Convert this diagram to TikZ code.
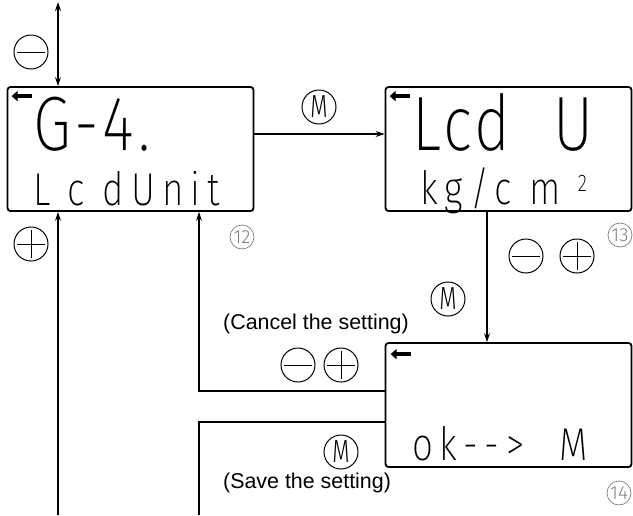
\documentclass[tikz,border=0pt]{standalone}
\usepackage{fontspec}
\setmainfont{Liberation Sans}
\newfontfamily\thinfont{Fira Sans Light}
\newfontfamily\lcdfont{Fira Sans ExtraLight}[FakeStretch=0.8]
\usetikzlibrary{arrows.meta}

\tikzset{
  lcd/.style={draw, line width=1.8pt, rounded corners=3pt, minimum width=246pt, minimum height=124pt, inner sep=0pt},
  link/.style={line width=1.2pt, -{Stealth[length=9pt,width=6pt]}},
  btn/.style={circle, draw, line width=1pt, minimum size=34pt, inner sep=0pt, font=\thinfont\fontsize{32}{32}\selectfont},
  btnminus/.style={btn, path picture={\draw[line width=1pt] ([xshift=3pt]path picture bounding box.west) -- ([xshift=-3pt]path picture bounding box.east);}},
  btnplus/.style={btn, path picture={
      \draw[line width=1pt] ([xshift=3pt]path picture bounding box.west) -- ([xshift=-3pt]path picture bounding box.east);
      \draw[line width=1pt] ([yshift=-3pt]path picture bounding box.north) -- ([yshift=3pt]path picture bounding box.south);}},
  stepno/.style={circle, draw=gray, line width=0.7pt, minimum size=24pt, inner sep=0pt, text=gray, font=\thinfont\fontsize{19}{19}\selectfont},
  bigseg/.style={anchor=base west, inner sep=0pt, font=\lcdfont\fontsize{77}{77}\selectfont\addfontfeature{LetterSpace=5}},
  smallseg/.style={anchor=base west, inner sep=0pt, font=\lcdfont\fontsize{46}{46}\selectfont\addfontfeature{LetterSpace=15}},
  note/.style={inner sep=0pt, font=\fontsize{21.4}{22}\selectfont},
  cursor/.style={line width=4pt, -{Triangle[length=6pt,width=10pt]}},
}

\begin{document}
\begin{tikzpicture}[x=1pt, y=-1pt]
    \useasboundingbox (0,0) rectangle (633,515);

    % Displays
    \node[lcd] (disp1) at (130.5,149) {};
    \node[lcd] (disp2) at (508.5,149) {};
    \node[lcd] (disp3) at (508.5,405) {};

    % Display contents
    \draw[cursor] ([shift={(25pt,-10pt)}]disp1.north west) -- ([shift={(5pt,-10pt)}]disp1.north west);
    \node[bigseg] (seg1a) at (33,150) {G-4.};
    \node[smallseg] (seg1b) at (33,205) {L\ c\ d\,Unit};

    \draw[cursor] ([shift={(25pt,-10pt)}]disp2.north west) -- ([shift={(5pt,-10pt)}]disp2.north west);
    \node[bigseg] (seg2a) at (412,150) {Lcd\ \ U};
    \node[smallseg] (seg2b) at (420,204) {kg\,/c\ m\ \raisebox{13pt}{\fontsize{24}{24}\selectfont 2}};

    \draw[cursor] ([shift={(26pt,-12pt)}]disp3.north west) -- ([shift={(6pt,-12pt)}]disp3.north west);
    \node[smallseg] (seg3b) at (412,460) {ok-->\ \ M};

    % Connectors
    \coordinate (topend) at (58,2);
    \draw[link, {Stealth[length=9pt,width=6pt]}-{Stealth[length=9pt,width=6pt]}] (topend) -- (topend |- disp1.north);
    \coordinate (plusend) at (58,515);
    \draw[link] (plusend) -- (plusend |- disp1.south);
    \draw[link] ([yshift=15pt]disp1.east) -- ([yshift=15pt]disp2.west);
    \draw[link] ([xshift=-21.5pt]disp2.south) -- ([xshift=-21.5pt]disp3.north);
    \draw[link] ([yshift=14pt]disp3.west) -| ([xshift=68.5pt]disp1.south);
    \coordinate (saveend) at (199,515);
    \draw[line width=1.2pt] ([yshift=-17pt]disp3.west) -| (saveend);

    % Buttons
    \node[btnminus] (bminus1) at (31,52) {};
    \node[btnplus] (bplus1) at (31,244) {};
    \node[btn] (bmode1) at (319,107) {\scalebox{0.7}[1]{M}};
    \node[btnminus] (bminus2) at (526,256) {};
    \node[btnplus] (bplus2) at (577,256) {};
    \node[btn] (bmode2) at (448,299) {\scalebox{0.7}[1]{M}};
    \node[btnminus] (bminus3) at (298,365) {};
    \node[btnplus] (bplus3) at (341,365) {};
    \node[btn] (bmode3) at (341,452) {\scalebox{0.7}[1]{M}};

    % Notes and step numbers
    \node[note] (cancel) at (316,324) {(Cancel the setting)};
    \node[note, anchor=west] (save) at (223,483) {(Save the setting)};
    \node[stepno] (step12) at (242,237) {12};
    \node[stepno] (step13) at (620,235) {13};
    \node[stepno] (step14) at (619,493) {14};
\end{tikzpicture}
\end{document}
